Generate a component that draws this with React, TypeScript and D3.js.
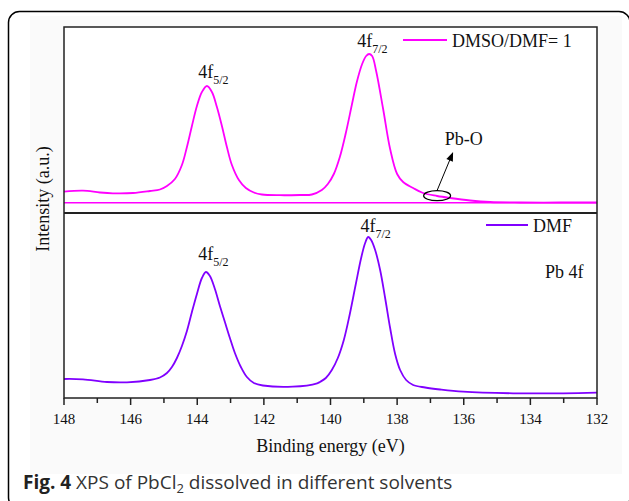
import React from 'react';
import * as d3 from 'd3';

// Upper panel: DMSO/DMF = 1 (binding energy eV, intensity a.u.)
const energyUpper = [148.0, 147.43, 146.92, 146.53, 145.93, 145.42, 145.12, 144.91, 144.67, 144.46, 144.31, 144.16, 144.01, 143.86, 143.71, 143.56, 143.41, 143.26, 143.11, 142.96, 142.75, 142.54, 142.3, 142.06, 141.52, 140.92, 140.56, 140.26, 140.08, 139.9, 139.72, 139.54, 139.36, 139.21, 139.05, 138.93, 138.84, 138.75, 138.63, 138.42, 138.21, 138.0, 137.82, 137.52, 137.22, 136.8, 136.41, 135.81, 135.21, 134.31, 133.11, 132.0];
const intensityUpper = [21.3, 22.3, 20.5, 19.7, 20, 22, 23.5, 27, 34, 48, 66, 87, 107, 121, 127, 121, 106, 87, 66, 48, 33, 25, 20.5, 18.5, 17.8, 18, 18.5, 23, 29, 39, 56, 80, 108, 131, 149, 157, 159, 157, 142, 104, 64, 39, 31, 25, 20, 17, 15, 12.5, 11, 10.5, 10.5, 10.5];
// Flat reference line in the upper panel
const baselineEnergy = [148, 132];
const baselineIntensity = [10.3, 10.3];

// Lower panel: DMF
const energyLower = [148.0, 147.43, 146.71, 146.11, 145.42, 145.12, 144.91, 144.76, 144.61, 144.46, 144.31, 144.16, 144.01, 143.86, 143.74, 143.62, 143.47, 143.32, 143.17, 143.02, 142.87, 142.69, 142.51, 142.3, 142.03, 141.13, 140.4, 140.32, 140.14, 139.96, 139.78, 139.6, 139.42, 139.24, 139.08, 138.96, 138.87, 138.78, 138.66, 138.51, 138.36, 138.21, 138.06, 137.91, 137.73, 137.52, 137.16, 136.71, 136.02, 134.52, 133.02, 132.0];
const intensityLower = [19, 18.7, 16, 15.7, 18, 20.5, 25, 31, 40, 52, 67, 86, 104, 120, 126, 122, 109, 92, 76, 60, 45, 31, 21, 15, 12.5, 11.3, 14.7, 16, 20, 28, 40, 58, 84, 114, 140, 155, 161, 158, 148, 128, 100, 70, 44, 28, 18, 13, 10.5, 8.5, 6.3, 4.7, 4.7, 5.3];

const xTicks = [148, 146, 144, 142, 140, 138, 136, 134, 132];
const xMinorTicks = [147, 145, 143, 141, 139, 137, 135, 133];

const seriesNames = ['DMSO/DMF= 1', 'DMF'];
const seriesColors = ['#ff00ff', '#8000ff'];

const W = 629, H = 501;
const L = 64, R = 597, T = 27, M = 213, B = 398;
const serif = '"Liberation Serif", "Times New Roman", serif';

export default function App() {
  const x = d3.scaleLinear().domain([148, 132]).range([L, R]);
  const yU = d3.scaleLinear().domain([0, 186]).range([M, T]);
  const yL = d3.scaleLinear().domain([0, 185]).range([B, M]);

  const mk = (ys: number[], es: number[], yS: d3.ScaleLinear<number, number>) =>
    d3.line<number>()
      .x((_, i) => x(es[i]))
      .y((v) => yS(v))
      .curve(d3.curveCatmullRom.alpha(0.5))(ys) || '';

  const upperPath = mk(intensityUpper, energyUpper, yU);
  const basePath = mk(baselineIntensity, baselineEnergy, yU);
  const lowerPath = mk(intensityLower, energyLower, yL);

  // annotation anchor (Pb-O)
  const ex = x(136.8), ey = yU(17.3);
  const ax1 = x(136.8), ay1 = yU(22.5);
  const ax2 = x(136.32), ay2 = yU(61);
  const ang = Math.atan2(ay2 - ay1, ax2 - ax1);
  const ah = 9, aw = 3.5;
  const p1 = [ax2 - ah * Math.cos(ang) + aw * Math.sin(ang), ay2 - ah * Math.sin(ang) - aw * Math.cos(ang)];
  const p2 = [ax2 - ah * Math.cos(ang) - aw * Math.sin(ang), ay2 - ah * Math.sin(ang) + aw * Math.cos(ang)];

  return (
    <svg width={W} height={H} style={{ position: 'absolute', left: 0, top: 0, background: '#fff' }}>
      <rect x={30} y={16} width={592} height={458} fill="#fafafa" />
      <rect x={8.5} y={11.5} width={621.5} height={497} rx={11} ry={11} fill="none" stroke="#000" strokeWidth={1.5} />
      <rect x={L} y={T} width={R - L} height={B - T} fill="#fff" />

      {/* curves */}
      <path d={basePath} fill="none" stroke={seriesColors[0]} strokeWidth={1.6} />
      <path d={upperPath} fill="none" stroke={seriesColors[0]} strokeWidth={1.8} />
      <path d={lowerPath} fill="none" stroke={seriesColors[1]} strokeWidth={1.8} />

      {/* frame */}
      <rect x={L} y={T} width={R - L} height={B - T} fill="none" stroke="#222" strokeWidth={1.5} />
      <line x1={L} x2={R} y1={M} y2={M} stroke="#222" strokeWidth={2} />

      {/* x ticks */}
      {xTicks.map((t) => (
        <g key={'t' + t}>
          <line x1={x(t)} x2={x(t)} y1={B} y2={B + 7} stroke="#222" strokeWidth={1.5} />
          <text x={x(t)} y={424} textAnchor="middle" fontFamily={serif} fontSize={15} fill="#111">{t}</text>
        </g>
      ))}
      {xMinorTicks.map((t) => (
        <line key={'m' + t} x1={x(t)} x2={x(t)} y1={B} y2={B + 5} stroke="#222" strokeWidth={1.5} />
      ))}

      <text x={(L + R) / 2} y={452} textAnchor="middle" fontFamily={serif} fontSize={18} fill="#111">Binding energy (eV)</text>
      <text transform={`translate(49,199) rotate(-90)`} textAnchor="middle" fontFamily={serif} fontSize={18} fill="#111">Intensity (a.u.)</text>

      {/* legends */}
      <line x1={403} x2={447} y1={40} y2={40} stroke={seriesColors[0]} strokeWidth={1.8} />
      <text x={452} y={47} fontFamily={serif} fontSize={18} fill="#111">{seriesNames[0]}</text>
      <line x1={486} x2={528} y1={225} y2={225} stroke={seriesColors[1]} strokeWidth={1.8} />
      <text x={533} y={232} fontFamily={serif} fontSize={18} fill="#111">{seriesNames[1]}</text>
      <text x={545} y={278} fontFamily={serif} fontSize={18} fill="#111">Pb 4f</text>

      {/* peak labels */}
      <text x={x(143.97)} y={yU(135)} fontFamily={serif} fontSize={18} fill="#111">4f<tspan fontSize={12} dy={6}>5/2</tspan></text>
      <text x={x(139.2)} y={yU(166.5)} fontFamily={serif} fontSize={18} fill="#111">4f<tspan fontSize={12} dy={6}>7/2</tspan></text>
      <text x={x(143.97)} y={yL(138)} fontFamily={serif} fontSize={18} fill="#111">4f<tspan fontSize={12} dy={6}>5/2</tspan></text>
      <text x={x(139.1)} y={yL(166.5)} fontFamily={serif} fontSize={18} fill="#111">4f<tspan fontSize={12} dy={6}>7/2</tspan></text>

      {/* Pb-O annotation */}
      <ellipse cx={ex} cy={ey} rx={13.5} ry={5} fill="none" stroke="#000" strokeWidth={1.2} />
      <line x1={ax1} y1={ay1} x2={ax2 - 6 * Math.cos(ang)} y2={ay2 - 6 * Math.sin(ang)} stroke="#000" strokeWidth={1} />
      <polygon points={`${ax2},${ay2} ${p1[0]},${p1[1]} ${p2[0]},${p2[1]}`} fill="#000" />
      <text x={x(136.0)} y={yU(68)} textAnchor="middle" fontFamily={serif} fontSize={18} fill="#111">Pb-O</text>

      {/* caption */}
      <text x={23} y={489} fontFamily='"Open Sans", sans-serif' fontSize={19} fill="#333">
        <tspan fontWeight="bold" fill="#222">Fig. 4</tspan> XPS of PbCl<tspan fontSize={13} dy={4}>2</tspan><tspan dy={-4}> dissolved in different solvents</tspan>
      </text>
    </svg>
  );
}
